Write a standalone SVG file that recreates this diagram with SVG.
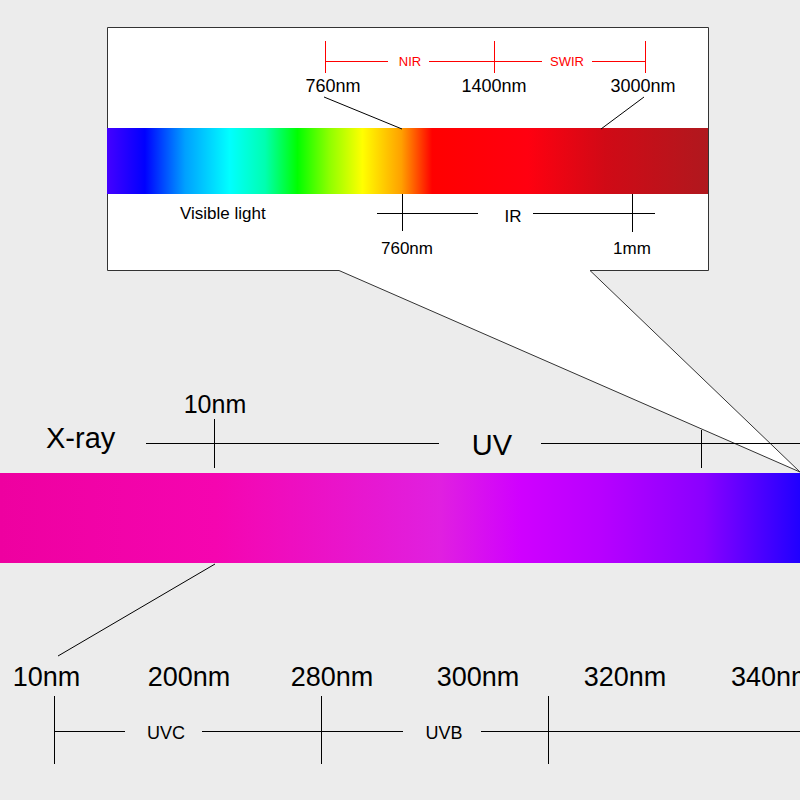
<svg xmlns="http://www.w3.org/2000/svg" width="800" height="800" viewBox="0 0 800 800">
<defs>
<style>
.t{font-family:"Liberation Sans",Arial,sans-serif;fill:#000}
.r{font-family:"Liberation Sans",Arial,sans-serif;fill:#ff0000}
.k{stroke:#000;stroke-width:1;fill:none}
.rl{stroke:#ff0000;stroke-width:1;fill:none}
</style>
<linearGradient id="vis" x1="107" y1="0" x2="708" y2="0" gradientUnits="userSpaceOnUse">
<stop offset="0" stop-color="#4400ff"/>
<stop offset="0.063" stop-color="#0000ff"/>
<stop offset="0.13" stop-color="#00a0ff"/>
<stop offset="0.204" stop-color="#00ffff"/>
<stop offset="0.263" stop-color="#00ffb0"/>
<stop offset="0.317" stop-color="#00ff00"/>
<stop offset="0.371" stop-color="#90ff00"/>
<stop offset="0.425" stop-color="#ffff00"/>
<stop offset="0.49" stop-color="#ffa000"/>
<stop offset="0.541" stop-color="#ff0000"/>
<stop offset="0.7" stop-color="#ff0010"/>
<stop offset="0.83" stop-color="#d00a16"/>
<stop offset="1" stop-color="#b0181e"/>
</linearGradient>
<linearGradient id="uv" x1="0" y1="0" x2="800" y2="0" gradientUnits="userSpaceOnUse">
<stop offset="0" stop-color="#ee00a0"/>
<stop offset="0.27" stop-color="#f505b0"/>
<stop offset="0.55" stop-color="#e020e0"/>
<stop offset="0.65" stop-color="#d000ff"/>
<stop offset="0.75" stop-color="#b800ff"/>
<stop offset="0.88" stop-color="#8a00ff"/>
<stop offset="1" stop-color="#2000ff"/>
</linearGradient>
</defs>
<rect x="0" y="0" width="800" height="800" fill="#ececec"/>

<g id="uv-bar">
<rect x="0" y="473" width="800" height="90" fill="url(#uv)"/>
</g>

<g id="callout">
<polygon points="107.5,27.5 708.5,27.5 708.5,270.5 590,270.5 800,472 339,270.5 107.5,270.5" fill="#ffffff" stroke="#333" stroke-width="1"/>
<rect x="107" y="128" width="601" height="66" fill="url(#vis)"/>
</g>

<g id="connectors">
<line class="rl" x1="325.5" y1="41" x2="325.5" y2="73"/>
<line class="rl" x1="494.5" y1="41" x2="494.5" y2="73"/>
<line class="rl" x1="645.5" y1="41" x2="645.5" y2="73"/>
<line class="rl" x1="325" y1="61.5" x2="388" y2="61.5"/>
<line class="rl" x1="429" y1="61.5" x2="542" y2="61.5"/>
<line class="rl" x1="592" y1="61.5" x2="645" y2="61.5"/>
<line class="k" x1="324" y1="97" x2="402" y2="129"/>
<line class="k" x1="644" y1="97" x2="601" y2="129"/>
<line class="k" x1="402.5" y1="194" x2="402.5" y2="231"/>
<line class="k" x1="632.5" y1="194" x2="632.5" y2="232"/>
<line class="k" x1="377" y1="213.5" x2="478" y2="213.5"/>
<line class="k" x1="533" y1="213.5" x2="655" y2="213.5"/>
<line class="k" x1="146" y1="443.5" x2="439" y2="443.5"/>
<line class="k" x1="541" y1="443.5" x2="800" y2="443.5"/>
<line class="k" x1="214.5" y1="419" x2="214.5" y2="468"/>
<line class="k" x1="701.5" y1="430" x2="701.5" y2="468"/>
<line class="k" x1="215" y1="564" x2="58" y2="656"/>
<line class="k" x1="54.5" y1="696" x2="54.5" y2="764"/>
<line class="k" x1="321.5" y1="696" x2="321.5" y2="764"/>
<line class="k" x1="548.5" y1="696" x2="548.5" y2="764"/>
<line class="k" x1="55" y1="731.5" x2="125" y2="731.5"/>
<line class="k" x1="202" y1="731.5" x2="403" y2="731.5"/>
<line class="k" x1="481" y1="731.5" x2="800" y2="731.5"/>
</g>

<g id="labels-top">
<text class="r" x="410" y="66" font-size="13" text-anchor="middle">NIR</text>
<text class="r" x="567" y="66" font-size="13" text-anchor="middle">SWIR</text>
<text class="t" x="333" y="92" font-size="18" text-anchor="middle">760nm</text>
<text class="t" x="494" y="92" font-size="18" text-anchor="middle">1400nm</text>
<text class="t" x="643" y="92" font-size="18" text-anchor="middle">3000nm</text>
<text class="t" x="180" y="219" font-size="17">Visible light</text>
<text class="t" x="513" y="222" font-size="17" text-anchor="middle">IR</text>
<text class="t" x="407" y="254" font-size="17" text-anchor="middle">760nm</text>
<text class="t" x="632" y="254" font-size="17" text-anchor="middle">1mm</text>
</g>

<g id="labels-main">
<text class="t" x="46" y="448" font-size="29">X-ray</text>
<text class="t" x="215" y="413" font-size="25" text-anchor="middle">10nm</text>
<text class="t" x="492" y="455" font-size="29" text-anchor="middle">UV</text>
<text class="t" x="46.5" y="686" font-size="27" text-anchor="middle">10nm</text>
<text class="t" x="189" y="686" font-size="27" text-anchor="middle">200nm</text>
<text class="t" x="332" y="686" font-size="27" text-anchor="middle">280nm</text>
<text class="t" x="478" y="686" font-size="27" text-anchor="middle">300nm</text>
<text class="t" x="625" y="686" font-size="27" text-anchor="middle">320nm</text>
<text class="t" x="731" y="686" font-size="27">340nm</text>
<text class="t" x="166" y="739" font-size="18" text-anchor="middle">UVC</text>
<text class="t" x="444" y="739" font-size="18" text-anchor="middle">UVB</text>
</g>
</svg>
